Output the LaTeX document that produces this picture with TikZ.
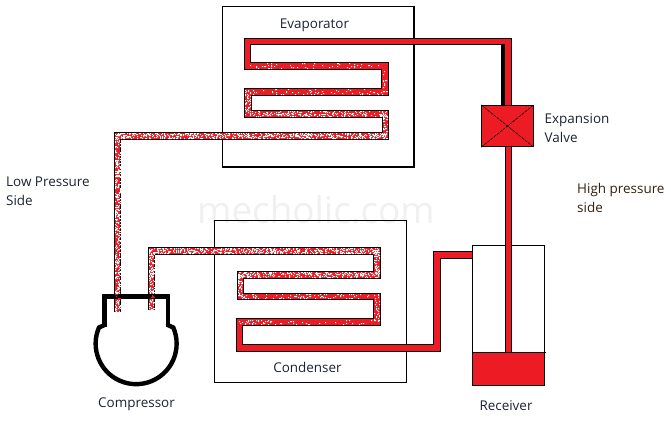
\documentclass[tikz,border=0pt]{standalone}
\usepackage{fontspec}
\setmainfont{Open Sans}
\definecolor{pipered}{HTML}{ED1C24}
\definecolor{labelink}{HTML}{1B2233}
\definecolor{brownink}{HTML}{33200F}
\definecolor{markgrey}{HTML}{F0F0F0}
\tikzset{
  vessel/.style={draw=black,line width=1.2bp,fill=none},
  pipeout/.style={draw=black,line width=7.2bp,line join=miter},
  pipein/.style={draw=pipered,line width=5.4bp,line join=miter},
  lab/.style={font=\fontsize{13.5}{19.5}\selectfont,text=labelink,inner sep=0pt,align=left},
  comp/.style={draw=black,line width=4.4bp,line join=miter}
}
\newcommand{\pipeline}[1]{\draw[pipeout] #1; \draw[pipein] #1;}
\newcommand{\speck}[6][white]{%
  \fill[#1] foreach \k in {1,...,#6}{%
    [/utils/exec={\pgfmathrandominteger{\sx}{#2}{#3}\pgfmathrandominteger{\sy}{#4}{#5}}]
    (\sx,\sy) rectangle ++(1,1)};}
\begin{document}
\begin{tikzpicture}[x=1bp,y=-1bp]
\useasboundingbox (0,0) rectangle (671,422);
\pgfmathsetseed{4242}
\node[font=\fontsize{37}{42}\selectfont,text=markgrey,inner sep=0pt] (mark) at (316,210) {mecholic.com};
% vessels
\node[vessel,minimum width=191.5bp,minimum height=160.5bp,inner sep=0pt] (evap) at (318.25,86.75) {};
\node[vessel,minimum width=192.4bp,minimum height=161.6bp,inner sep=0pt] (cond) at (310.5,301.5) {};
% receiver
\fill[pipered] (472.3,352.3) rectangle (544.3,385.3);
\node[vessel,minimum width=72bp,minimum height=140bp,inner sep=0pt] (recv) at (508.3,315.3) {};
\draw[black,line width=1.2bp] (recv.west |- 0,352.3) -- (546,352.3);
% valve
\node[draw=black,fill=pipered,line width=1bp,minimum width=51.6bp,minimum height=41.4bp,inner sep=0pt] (valve) at (507.5,126) {};
\draw[black,line width=.6bp,dash pattern=on 3bp off 1bp] (valve.north west) -- (valve.south east) (valve.south west) -- (valve.north east);
% named ends
\coordinate (lowend) at (117.5,312);
\coordinate (hiend) at (151.7,310);
\coordinate (recvin) at (recv.west |- 0,255);
\coordinate (valveout) at (508.5,146.7);
\coordinate (recvliq) at (508.5,352);
% pipes
\pipeline{(valveout) -- (recvliq)}
\pipeline{(lowend) -- (117.5,136) -- (385.5,136) -- (385.5,114) -- (248,114) -- (248,92) -- (385,92) -- (385,66) -- (247.5,66) -- (247.5,41.5) -- (508,41.5) -- (508,105.3)}
\fill[black] (501.3,44) rectangle (504.2,105.3);
\pipeline{(hiend) -- (151.7,251) -- (377,251) -- (377,275) -- (240.5,275) -- (240.5,296.5) -- (377,296.5) -- (377,322) -- (239.5,322) -- (239.5,348) -- (437,348) -- (437,255) -- (recvin)}
% speckle: evaporator side
\speck{250}{380}{63}{68}{50}
\speck{383}{387}{68}{92}{14}
\speck{250}{383}{89}{94}{60}
\speck{245}{250}{90}{114}{50}
\speck{250}{386}{111}{116}{220}
\speck{383}{387}{114}{134}{40}
\speck{115}{387}{133}{138}{700}
\speck{115}{120}{134}{311}{430}
% speckle: condenser side
\speck{149}{154}{250}{309}{150}
\speck{149}{378}{248}{253}{640}
\speck{374}{379}{252}{273}{50}
\speck{238}{378}{272}{277}{300}
\speck{238}{242}{274}{296}{50}
\speck{242}{378}{294}{298}{90}
\speck{374}{379}{297}{320}{28}
\speck{238}{270}{320}{324}{30}
\speck{270}{378}{320}{324}{30}
% compressor
\draw[comp] (104.6,327) -- (104.6,296.3) -- (167.8,296.3) -- (167.8,327);
\draw[comp] (104.6,325) -- (99,327.5) arc[start angle=203.5,end angle=-23.5,x radius=40.5,y radius=40.5] -- (167.8,325);
\speck[pipered]{115}{120}{294}{298}{8}
\speck[pipered]{149}{154}{294}{298}{8}
% labels
\node[lab,anchor=center] (levap) at (314.5,25.5) {Evaporator};
\node[lab,anchor=center] (lcond) at (307.5,367.5) {Condenser};
\node[lab,anchor=center] (lcomp) at (136.5,404.5) {Compressor};
\node[lab,anchor=center] (lrecv) at (506,405.5) {Receiver};
\node[lab,anchor=west] (lvalve) at (544.5,128) {Expansion\\Valve};
\node[lab,anchor=west] (llow) at (6,191) {Low Pressure\\Side};
\node[lab,anchor=west,text=brownink] (lhigh) at (577,198) {High pressure\\side};
\end{tikzpicture}
\end{document}
